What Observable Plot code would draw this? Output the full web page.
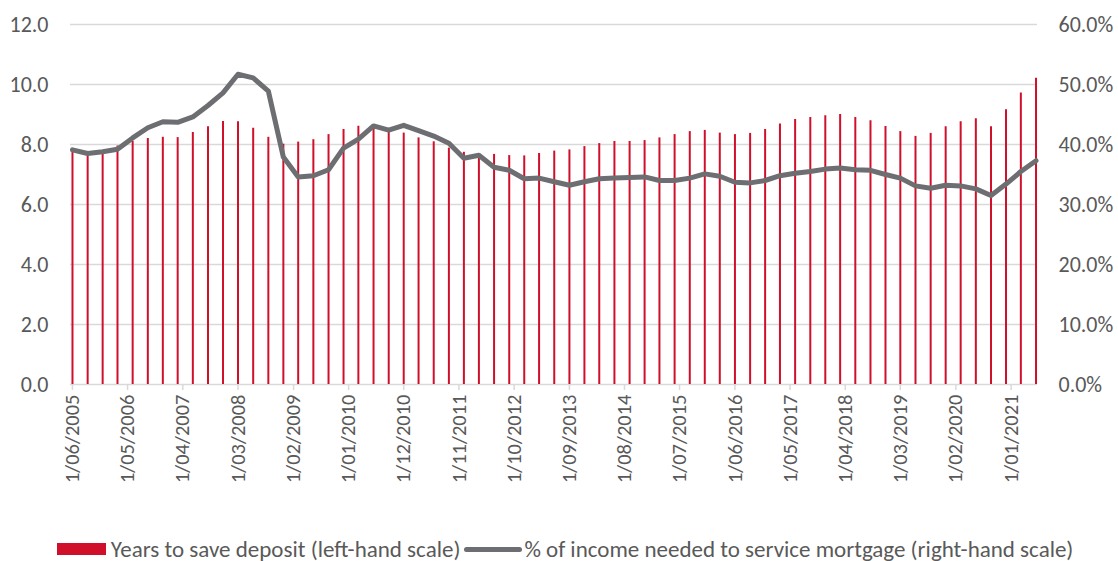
<!DOCTYPE html>
<html>
<head>
<meta charset="utf-8">
<script src="https://cdn.jsdelivr.net/npm/d3@7"></script>
<script src="https://cdn.jsdelivr.net/npm/@observablehq/plot@0.6"></script>
<style>
  html, body { margin: 0; padding: 0; background: #fff; }
  #chart { width: 1118px; height: 561px; position: relative; }
  #legend {
    position: absolute; left: 12px; top: 537px; width: 1106px; height: 24px; line-height: 24px;
    display: flex; justify-content: center; align-items: center;
    font-family: Carlito, Calibri, Lato, sans-serif; font-size: 23px; color: #595959;
    white-space: nowrap;
  }
  .sw { display: inline-block; width: 49px; height: 12px; background: #d0102b; margin-right: 5px; }
  .ln { display: inline-block; width: 58px; height: 5px; border-radius: 3px; background: #6d6e71; margin: 0 2px 0 4px; }
</style>
</head>
<body>
<div id="chart"><div id="legend"></div></div>
<script>
// Quarterly observation dates
const quarters = [
  "2005-06","2005-09","2005-12","2006-03","2006-06","2006-09","2006-12","2007-03",
  "2007-06","2007-09","2007-12","2008-03","2008-06","2008-09","2008-12","2009-03",
  "2009-06","2009-09","2009-12","2010-03","2010-06","2010-09","2010-12","2011-03",
  "2011-06","2011-09","2011-12","2012-03","2012-06","2012-09","2012-12","2013-03",
  "2013-06","2013-09","2013-12","2014-03","2014-06","2014-09","2014-12","2015-03",
  "2015-06","2015-09","2015-12","2016-03","2016-06","2016-09","2016-12","2017-03",
  "2017-06","2017-09","2017-12","2018-03","2018-06","2018-09","2018-12","2019-03",
  "2019-06","2019-09","2019-12","2020-03","2020-06","2020-09","2020-12","2021-03",
  "2021-06"
];
// Years to save deposit (left-hand scale)
const yearsToSave = [
  7.85, 7.70, 7.80, 7.95, 8.10, 8.20, 8.24, 8.23, 8.40, 8.59, 8.77, 8.76, 8.54, 8.24, 8.01, 8.08,
  8.16, 8.33, 8.50, 8.61, 8.60, 8.41, 8.38, 8.22, 8.09, 7.88, 7.74, 7.65, 7.67, 7.63, 7.62, 7.70,
  7.78, 7.82, 7.93, 8.03, 8.10, 8.10, 8.13, 8.22, 8.33, 8.43, 8.47, 8.38, 8.33, 8.37, 8.50, 8.68,
  8.83, 8.90, 8.96, 9.00, 8.90, 8.79, 8.60, 8.43, 8.27, 8.37, 8.59, 8.76, 8.86, 8.59, 9.16, 9.72,
  10.21
];
// % of income needed to service mortgage (right-hand scale)
const pctIncome = [
  39.1, 38.5, 38.8, 39.2, 41.1, 42.8, 43.8, 43.7, 44.6, 46.5, 48.6, 51.7, 51.1, 48.9, 37.9, 34.6,
  34.8, 35.8, 39.4, 40.9, 43.1, 42.4, 43.2, 42.3, 41.4, 40.2, 37.7, 38.2, 36.2, 35.7, 34.3, 34.4,
  33.8, 33.2, 33.8, 34.3, 34.4, 34.5, 34.6, 34.0, 34.0, 34.4, 35.1, 34.7, 33.7, 33.6, 34.0, 34.8,
  35.2, 35.5, 35.9, 36.1, 35.8, 35.7, 35.0, 34.4, 33.1, 32.7, 33.2, 33.1, 32.6, 31.5, 33.4, 35.5,
  37.3
];
// x-axis tick labels
const xTickLabels = [
  "1/06/2005","1/05/2006","1/04/2007","1/03/2008","1/02/2009","1/01/2010","1/12/2010",
  "1/11/2011","1/10/2012","1/09/2013","1/08/2014","1/07/2015","1/06/2016","1/05/2017",
  "1/04/2018","1/03/2019","1/02/2020","1/01/2021"
];
const yTicksLeft = [0, 2, 4, 6, 8, 10, 12];
const seriesNames = ["Years to save deposit (left-hand scale)", "% of income needed to service mortgage (right-hand scale)"];

const parseQ = d3.utcParse("%Y-%m");
const parseTick = d3.utcParse("%d/%m/%Y");
const data = quarters.map((q, i) => ({date: parseQ(q), years: yearsToSave[i], pct: pctIncome[i]}));
const xTicks = xTickLabels.map(parseTick);
const fmtTick = d3.utcFormat("%-d/%m/%Y");

const font = "Carlito, Calibri, Lato, sans-serif";
const textColor = "#595959";
const grid = "#d9d9d9";

const chart = Plot.plot({
  width: 1118,
  height: 533,
  marginLeft: 70,
  marginRight: 81,
  marginTop: 24,
  marginBottom: 149,
  style: {fontFamily: font, fontSize: "22px", color: textColor, background: "white", overflow: "visible"},
  x: {type: "utc", domain: [new Date(Date.UTC(2005, 4, 20)), new Date(Date.UTC(2021, 5, 10))]},
  y: {domain: [0, 12]},
  marks: [
    Plot.gridY(yTicksLeft.filter(d => d > 0), {stroke: grid, strokeOpacity: 1, strokeWidth: 1.5}),
    Plot.ruleY([0], {stroke: grid, strokeWidth: 1.5}),
    Plot.axisY(yTicksLeft, {anchor: "left", tickSize: 0, tickPadding: 22, tickFormat: d => d.toFixed(1), fontSize: 22, fill: textColor, label: null}),
    Plot.axisY(yTicksLeft, {anchor: "right", tickSize: 0, tickPadding: 21, tickFormat: d => (d * 5).toFixed(1) + "%", fontSize: 22, fill: textColor, label: null}),
    Plot.axisX(xTicks, {anchor: "bottom", tickSize: 6, stroke: grid, strokeWidth: 1.5, tickPadding: 4, tickRotate: -90, tickFormat: fmtTick, fontSize: 20.5, fill: textColor, label: null}),
    Plot.ruleX(data, {x: "date", y1: 0, y2: "years", stroke: "#d0102b", strokeWidth: 2}),
    Plot.line(data, {x: "date", y: d => d.pct / 5, stroke: "#6d6e71", strokeWidth: 5, strokeLinejoin: "round", strokeLinecap: "round"})
  ]
});
document.getElementById("chart").prepend(chart);

const legend = document.getElementById("legend");
legend.innerHTML = `<span class="sw"></span><span>${seriesNames[0]}</span><span class="ln"></span><span>${seriesNames[1]}</span>`;
</script>
</body>
</html>
